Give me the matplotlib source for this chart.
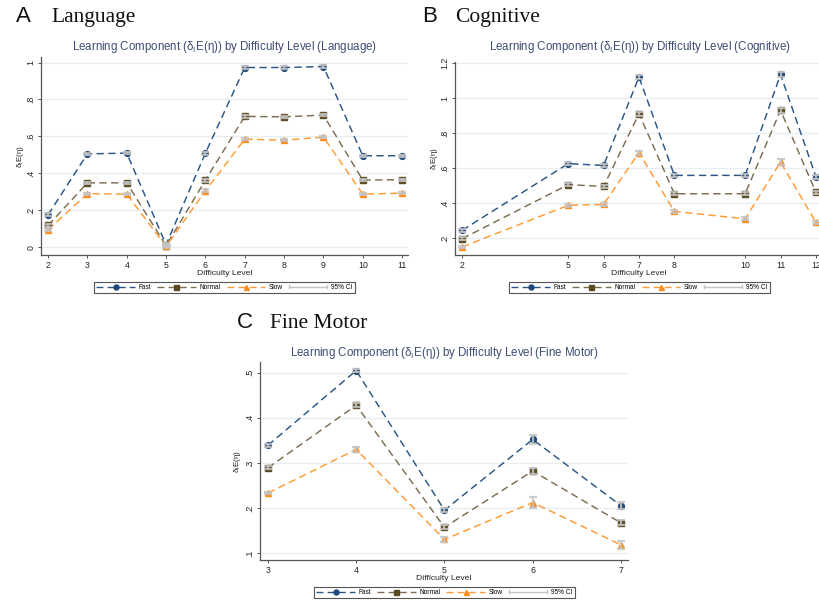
import matplotlib
matplotlib.use("Agg")
import matplotlib.pyplot as plt
from matplotlib.lines import Line2D
from matplotlib.legend_handler import HandlerBase

# ---------------- data ----------------
lang_x = [2, 3, 4, 5, 6, 7, 8, 9, 10, 11]
lang_fast = [0.175, 0.505, 0.509, 0.013, 0.509, 0.973, 0.973, 0.978, 0.495, 0.495]
lang_normal = [0.117, 0.348, 0.348, 0.007, 0.363, 0.708, 0.706, 0.715, 0.363, 0.365]
lang_slow = [0.094, 0.289, 0.287, 0.004, 0.305, 0.585, 0.579, 0.596, 0.287, 0.292]
lang_ci = [0.008, 0.006, 0.006, 0.008, 0.008, 0.006, 0.006, 0.006, 0.006, 0.006]
lang_yticks = [0, 0.2, 0.4, 0.6, 0.8, 1.0]
lang_yticklabels = ["0", ".2", ".4", ".6", ".8", "1"]

cog_x = [2, 5, 6, 7, 8, 10, 11, 12]
cog_fast = [0.244, 0.625, 0.615, 1.120, 0.558, 0.558, 1.135, 0.550]
cog_normal = [0.196, 0.505, 0.495, 0.910, 0.453, 0.453, 0.930, 0.461]
cog_slow = [0.149, 0.387, 0.392, 0.688, 0.352, 0.310, 0.634, 0.290]
cog_ci = [0.008, 0.008, 0.008, 0.012, 0.008, 0.008, 0.015, 0.010]
cog_yticks = [0.2, 0.4, 0.6, 0.8, 1.0, 1.2]
cog_yticklabels = [".2", ".4", ".6", ".8", "1", "1.2"]

fm_x = [3, 4, 5, 6, 7]
fm_fast = [0.339, 0.505, 0.195, 0.352, 0.205]
fm_normal = [0.289, 0.428, 0.157, 0.282, 0.167]
fm_slow = [0.233, 0.330, 0.130, 0.212, 0.118]
fm_ci_fast = [0.003, 0.004, 0.004, 0.010, 0.008]
fm_ci_normal = [0.003, 0.004, 0.004, 0.007, 0.006]
fm_ci_slow = [0.003, 0.006, 0.005, 0.013, 0.009]
fm_yticks = [0.1, 0.2, 0.3, 0.4, 0.5]
fm_yticklabels = [".1", ".2", ".3", ".4", ".5"]

series_names = ["Fast", "Normal", "Slow"]
ci_label = "95% CI"

# ---------------- style ----------------
W, H = 819, 606
FONT = ["Liberation Sans", "DejaVu Sans"]
SERIF = ["Liberation Serif", "DejaVu Serif"]
plt.rcParams["font.family"] = FONT
plt.rcParams["mathtext.fontset"] = "custom"
plt.rcParams["mathtext.rm"] = "Liberation Sans"

line_colors = ["#2a5585", "#7f6d52", "#ff9a33"]
marker_colors = ["#1f4a78", "#5b4a20", "#ff8c1a"]
markers = ["o", "s", "^"]
ci_color = "#c4c4c4"
title_color = "#3e4c73"
grid_color = "#e7eef1"
spine_color = "#555555"

fig = plt.figure(figsize=(W / 100, H / 100), dpi=100)


def px_axes(left, top, right, bottom):
    return fig.add_axes([left / W, (H - bottom) / H, (right - left) / W, (bottom - top) / H])


class HandlerCI(HandlerBase):
    def create_artists(self, legend, orig_handle, xdescent, ydescent, width, height,
                       fontsize, trans):
        y = height / 2 - ydescent
        x0, x1 = -xdescent, width - xdescent
        h = height * 0.35
        arts = [Line2D([x0, x1], [y, y], color=ci_color, lw=1.0),
                Line2D([x0, x0], [y - h, y + h], color=ci_color, lw=1.0),
                Line2D([x1, x1], [y - h, y + h], color=ci_color, lw=1.0)]
        for a in arts:
            a.set_transform(trans)
        return arts


def draw_panel(ax, x, ys, cis, xlim, ylim, yticks, yticklabels, xticks, title, title_xy,
               legend_xy, ylabel_off):
    ax.set_xlim(*xlim)
    ax.set_ylim(*ylim)
    for y, ci, lc, mc, mk in zip(ys, cis, line_colors, marker_colors, markers):
        ax.plot(x, y, linestyle=(0, (5, 3)), color=lc, lw=1.05, zorder=3)
        ax.plot(x, y, linestyle="none", marker=mk, ms=4.2, color=mc, mec=mc, zorder=4)
        ax.errorbar(x, y, yerr=ci, fmt="none", ecolor=ci_color, elinewidth=1.6,
                    capsize=2.6, capthick=1.6, alpha=0.85, zorder=5)
    ax.set_yticks(yticks)
    ax.set_yticklabels(yticklabels, rotation=90, va="center")
    ax.set_xticks(xticks)
    ax.set_xticklabels([str(v) for v in xticks])
    ax.grid(axis="y", color=grid_color, lw=0.9, zorder=0)
    ax.set_axisbelow(True)
    for s in ["top", "right"]:
        ax.spines[s].set_visible(False)
    for s in ["left", "bottom"]:
        ax.spines[s].set_color(spine_color)
        ax.spines[s].set_linewidth(0.9)
    ax.tick_params(axis="both", labelsize=6.3, length=2.5, width=0.7, color=spine_color,
                   pad=1.5, labelcolor="#222222")
    ax.set_xlabel("Difficulty Level", fontsize=6.1, labelpad=0.5, color="#222222")
    ax.set_ylabel("δ$_\\mathregular{I}$E(η)", fontsize=5.8, color="#222222")
    ax.yaxis.set_label_coords(ylabel_off, 0.5)
    fig.text(title_xy[0] / W, (H - title_xy[1]) / H, title, ha="center", va="center",
             fontsize=8.3, color=title_color)

    handles = [Line2D([0], [0], linestyle=(0, (5, 3)), color=lc, lw=1.0, marker=mk, ms=3.6,
                      mfc=mc, mec=mc)
               for lc, mc, mk in zip(line_colors, marker_colors, markers)]
    ci_proxy = Line2D([0], [0], color=ci_color)
    leg = ax.legend(handles + [ci_proxy], series_names + [ci_label], loc="center",
                    bbox_to_anchor=(legend_xy[0] / W, (H - legend_xy[1]) / H),
                    bbox_transform=fig.transFigure, ncol=4, fontsize=4.7, frameon=True,
                    fancybox=False, framealpha=1, edgecolor="#555555", borderpad=0.35,
                    handlelength=5.9, handletextpad=0.6, columnspacing=0.9,
                    handler_map={ci_proxy: HandlerCI()})
    leg.get_frame().set_linewidth(0.8)


ttl = "Learning Component (δ$_\\mathregular{I}$E(η)) by Difficulty Level (NAME)"

# Panel A - Language
axA = px_axes(41, 57, 408, 255)
draw_panel(axA, lang_x, [lang_fast, lang_normal, lang_slow], [lang_ci] * 3,
           (1.82, 11.15), (-0.043, 1.03), lang_yticks, lang_yticklabels, lang_x,
           ttl.replace("NAME", "Language"), (225, 47), (224.5, 287.5), -0.042)

# Panel B - Cognitive
axB = px_axes(455, 62, 823, 255)
draw_panel(axB, cog_x, [cog_fast, cog_normal, cog_slow], [cog_ci] * 3,
           (1.8, 12.2), (0.103, 1.206), cog_yticks, cog_yticklabels, cog_x,
           ttl.replace("NAME", "Cognitive"), (640, 47), (639.5, 287.5), -0.042)

# Panel C - Fine Motor
axC = px_axes(260, 362, 628, 560)
draw_panel(axC, fm_x, [fm_fast, fm_normal, fm_slow], [fm_ci_fast, fm_ci_normal, fm_ci_slow],
           (2.91, 7.08), (0.0844, 0.524), fm_yticks, fm_yticklabels, fm_x,
           ttl.replace("NAME", "Fine Motor"), (444, 353), (444.5, 592.5), -0.045)

# panel letters and headings
for letter, lx, word, wx, by in [("A", 16, "Language", 51, 22), ("B", 422, "Cognitive", 455, 22),
                                 ("C", 237, "Fine Motor", 270, 328)]:
    fig.text(lx / W, (H - by) / H, letter, fontsize=16, family=FONT, va="baseline",
             ha="left", color="#111111")
    fig.text(wx / W, (H - by) / H, word, fontsize=15.5, family=SERIF, va="baseline",
             ha="left", color="#111111")

fig.savefig("out.png", dpi=100, facecolor="white")
